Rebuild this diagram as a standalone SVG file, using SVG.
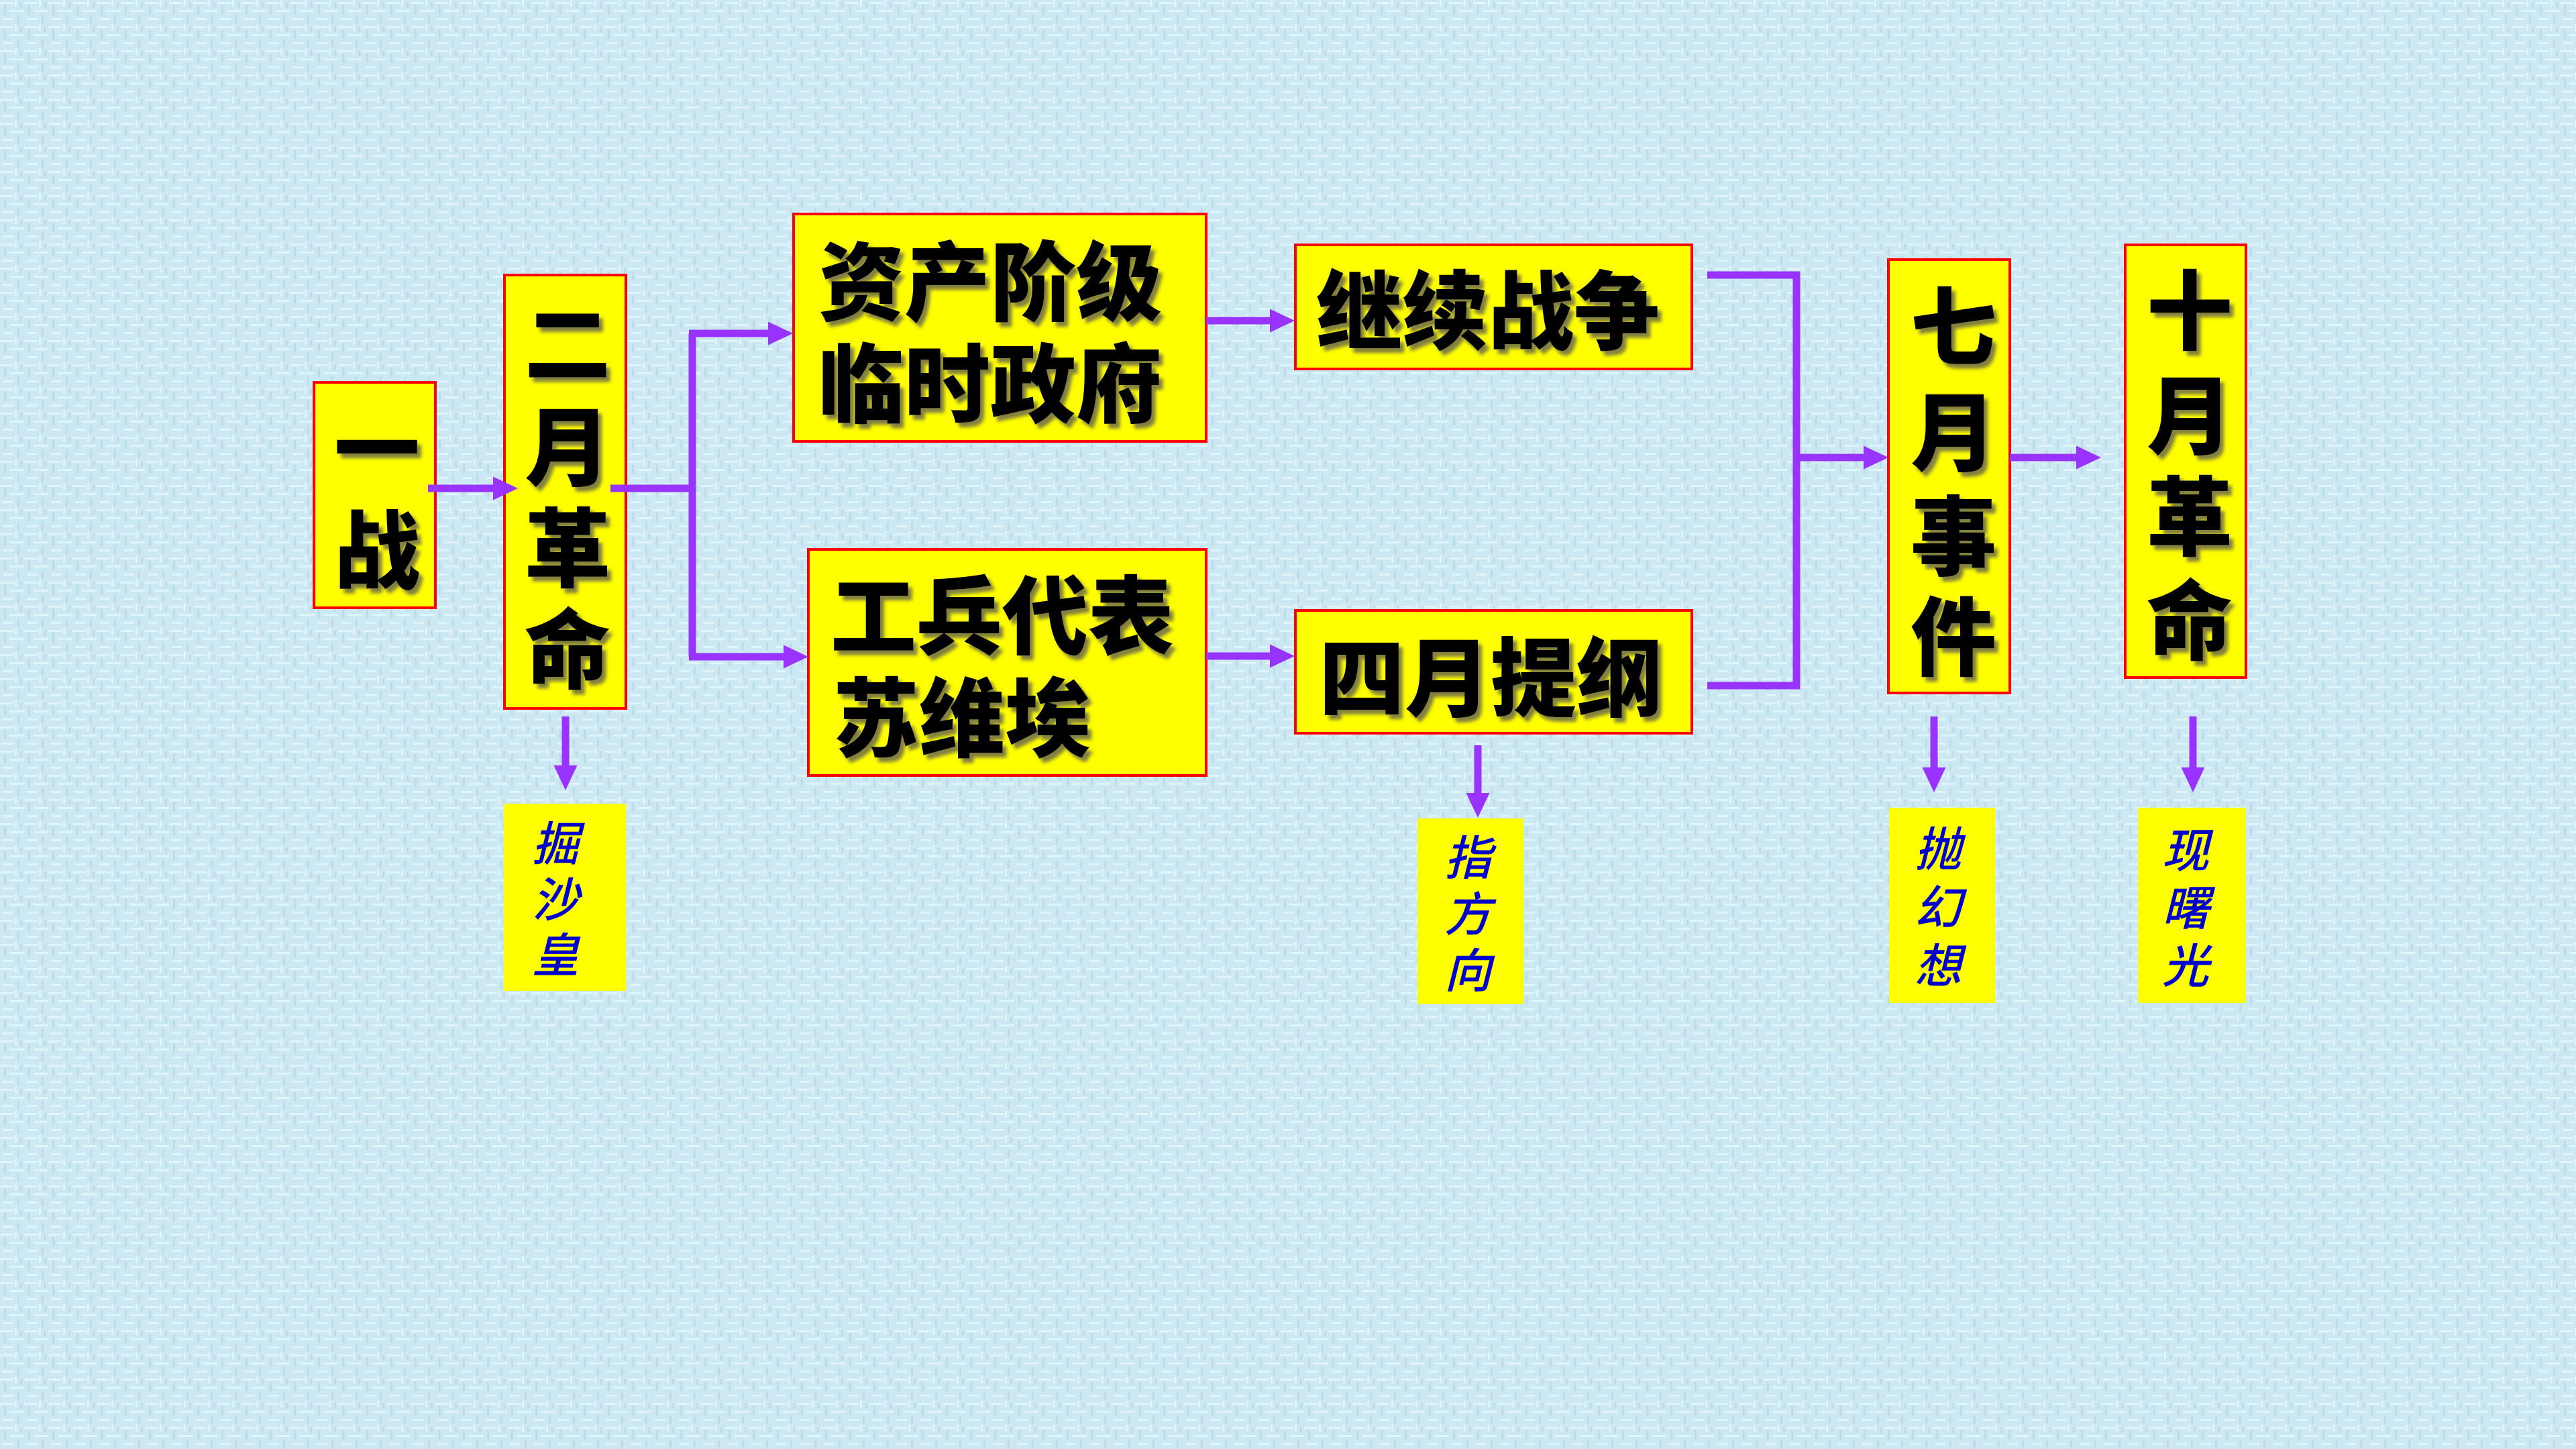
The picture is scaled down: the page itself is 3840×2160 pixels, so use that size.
<svg xmlns="http://www.w3.org/2000/svg" width="3840" height="2160" viewBox="0 0 3840 2160">
<defs>
<pattern id="tex" width="36" height="36" patternUnits="userSpaceOnUse">
<rect width="36" height="36" fill="#cce8f3"/>
<rect x="0" y="3" width="20" height="3" fill="#e0f4fb"/>
<rect x="14" y="15" width="22" height="3" fill="#e0f4fb"/>
<rect x="4" y="27" width="16" height="3" fill="#e0f4fb"/>
<rect x="6" y="8" width="3" height="14" fill="#bcdcec"/>
<rect x="26" y="22" width="3" height="12" fill="#bcdcec"/>
<rect x="22" y="0" width="3" height="10" fill="#e0f4fb"/>
<rect x="30" y="4" width="3" height="8" fill="#bcdcec"/>
</pattern>
<marker id="ah" markerUnits="userSpaceOnUse" markerWidth="40" markerHeight="36" refX="10" refY="17.5" orient="auto">
<path d="M0,0 L37,17.5 L0,35 z" fill="#9933ff"/>
</marker>
<filter id="sh" x="-10%" y="-10%" width="130%" height="130%">
<feDropShadow dx="6" dy="7" stdDeviation="2.5" flood-color="#6d6a4c" flood-opacity="0.85"/>
</filter>
<style>
.box{fill:#ffff00;stroke:#ff0000;stroke-width:4}
.lbl{fill:#ffff00}
.t{font-family:"Noto Sans CJK SC","Noto Sans CJK TC",sans-serif;font-weight:900;font-size:128px;fill:#000;filter:url(#sh)}
.b{font-family:"Noto Sans CJK SC","Noto Sans CJK TC",sans-serif;font-style:italic;font-weight:500;font-size:70px;fill:#0000cc}
.c{fill:none;stroke:#9933ff;stroke-width:11}
</style>
</defs>
<rect width="3840" height="2160" fill="url(#tex)"/>

<g id="n-yizhan">
<rect class="box" x="468" y="570" width="181" height="336"/>
<text class="t" text-anchor="middle" dominant-baseline="central"><tspan x="562" y="660">一</tspan><tspan x="562" y="812">战</tspan></text>
</g>
<g id="n-eryue">
<rect class="box" x="752" y="410" width="181" height="646"/>
<text class="t" text-anchor="middle" dominant-baseline="central"><tspan x="846" y="504">二</tspan><tspan x="846" y="658">月</tspan><tspan x="846" y="809">革</tspan><tspan x="846" y="960">命</tspan></text>
</g>
<g id="n-zichan">
<rect class="box" x="1183" y="319" width="615" height="339"/>
<text class="t" dominant-baseline="central"><tspan x="1220" y="412">资产阶级</tspan><tspan x="1220" y="564">临时政府</tspan></text>
</g>
<g id="n-gongbing">
<rect class="box" x="1205" y="819" width="593" height="337"/>
<text class="t" dominant-baseline="central"><tspan x="1238" y="910">工兵代表</tspan><tspan x="1242" y="1062">苏维埃</tspan></text>
</g>
<g id="n-jixu">
<rect class="box" x="1931" y="365" width="591" height="185"/>
<text class="t" dominant-baseline="central" x="1962" y="455">继续战争</text>
</g>
<g id="n-siyue">
<rect class="box" x="1931" y="910" width="591" height="183"/>
<text class="t" dominant-baseline="central" x="1966" y="1002">四月提纲</text>
</g>
<g id="n-qiyue">
<rect class="box" x="2815" y="387" width="181" height="646"/>
<text class="t" text-anchor="middle" dominant-baseline="central"><tspan x="2912" y="478">七</tspan><tspan x="2912" y="636">月</tspan><tspan x="2912" y="791">事</tspan><tspan x="2912" y="941">件</tspan></text>
</g>
<g id="n-shiyue">
<rect class="box" x="3168" y="365" width="180" height="645"/>
<text class="t" text-anchor="middle" dominant-baseline="central"><tspan x="3264" y="455">十</tspan><tspan x="3264" y="611">月</tspan><tspan x="3264" y="762">革</tspan><tspan x="3264" y="917">命</tspan></text>
</g>

<g id="n-jue">
<rect class="lbl" x="751" y="1198" width="182" height="279"/>
<text class="b" text-anchor="middle" dominant-baseline="central"><tspan x="828" y="1252">掘</tspan><tspan x="828" y="1335">沙</tspan><tspan x="828" y="1418">皇</tspan></text>
</g>
<g id="n-zhi">
<rect class="lbl" x="2113" y="1220" width="158" height="277"/>
<text class="b" text-anchor="middle" dominant-baseline="central"><tspan x="2188" y="1273">指</tspan><tspan x="2188" y="1357">方</tspan><tspan x="2188" y="1441">向</tspan></text>
</g>
<g id="n-pao">
<rect class="lbl" x="2816" y="1204" width="158" height="291"/>
<text class="b" text-anchor="middle" dominant-baseline="central"><tspan x="2889" y="1260">抛</tspan><tspan x="2889" y="1347">幻</tspan><tspan x="2889" y="1434">想</tspan></text>
</g>
<g id="n-xian">
<rect class="lbl" x="3187" y="1204" width="161" height="291"/>
<text class="b" text-anchor="middle" dominant-baseline="central"><tspan x="3258" y="1262">现</tspan><tspan x="3258" y="1348">曙</tspan><tspan x="3258" y="1434">光</tspan></text>
</g>

<g id="connectors">
<path class="c" d="M638,728 H745" marker-end="url(#ah)"/>
<path class="c" d="M910,728 H1032 M1032,497 V979"/>
<path class="c" d="M1027,497 H1155" marker-end="url(#ah)"/>
<path class="c" d="M1027,979 H1178" marker-end="url(#ah)"/>
<path class="c" d="M1798,478 H1903" marker-end="url(#ah)"/>
<path class="c" d="M1798,978 H1903" marker-end="url(#ah)"/>
<path class="c" d="M2545,410 H2678 V1022 H2545"/>
<path class="c" d="M2678,682 H2788" marker-end="url(#ah)"/>
<path class="c" d="M2996,682 H3105" marker-end="url(#ah)"/>
<path class="c" d="M843,1068 V1151" marker-end="url(#ah)"/>
<path class="c" d="M2203,1111 V1192" marker-end="url(#ah)"/>
<path class="c" d="M2883,1068 V1154" marker-end="url(#ah)"/>
<path class="c" d="M3269,1068 V1154" marker-end="url(#ah)"/>
</g>
</svg>
